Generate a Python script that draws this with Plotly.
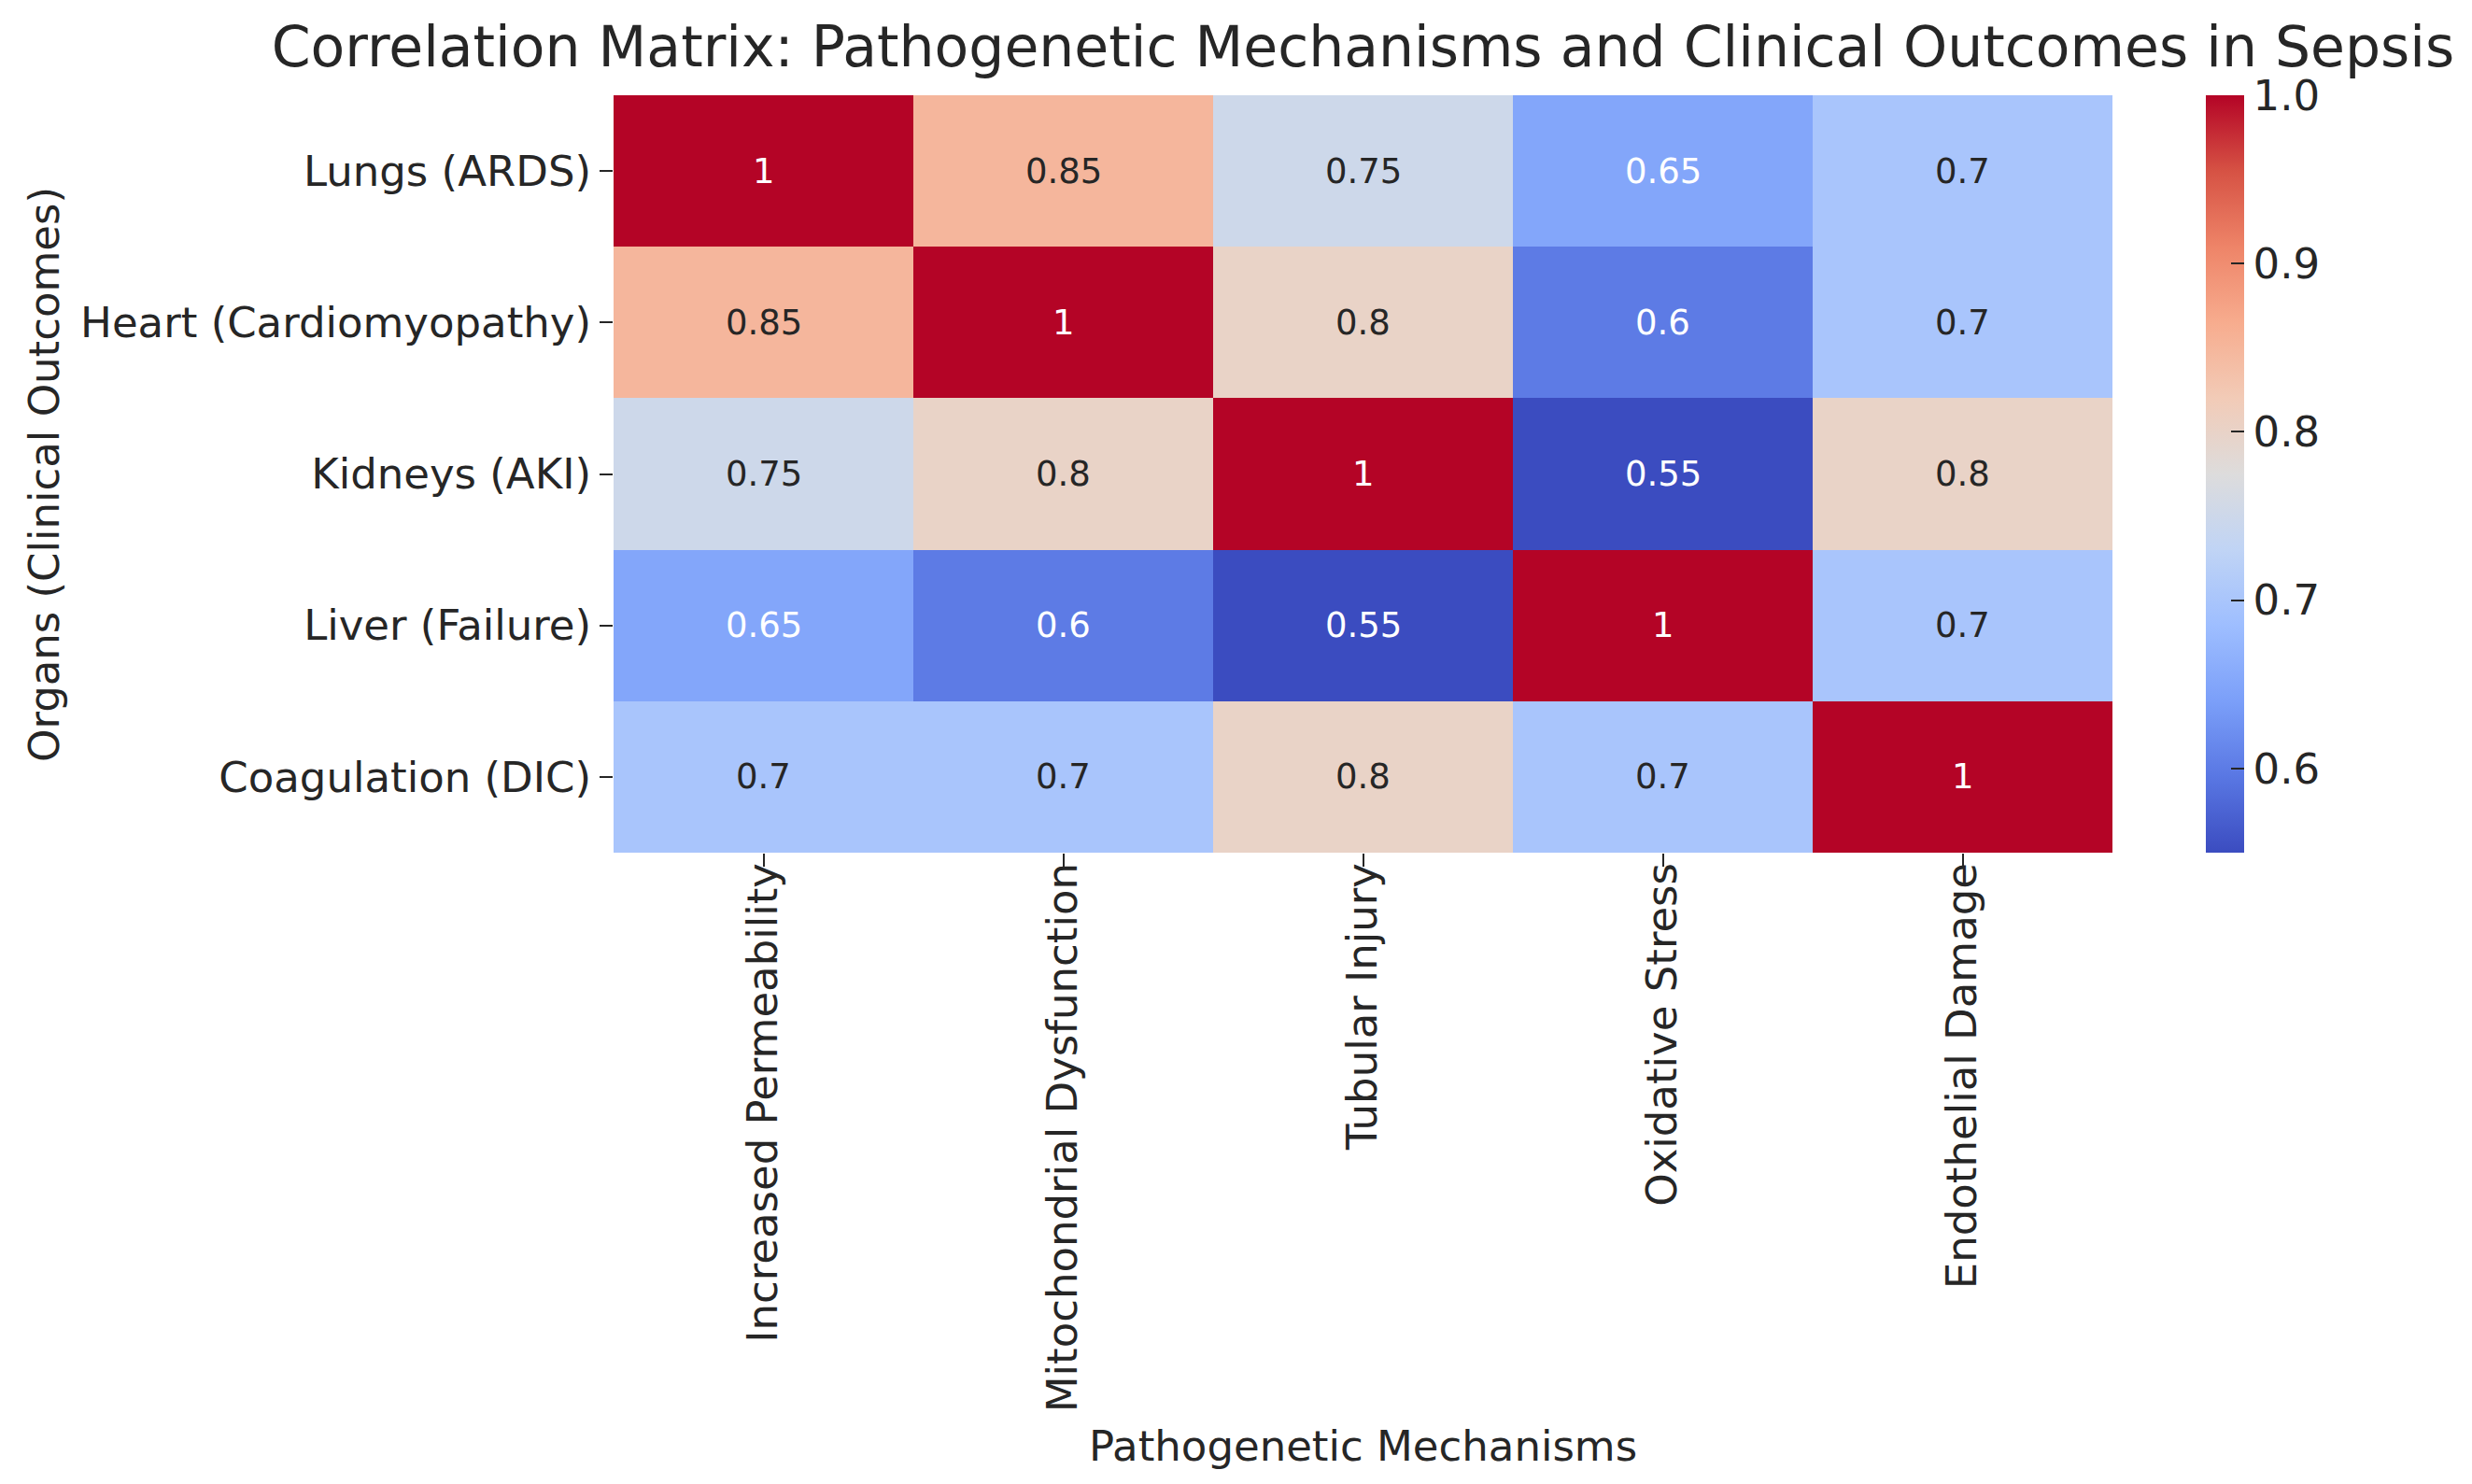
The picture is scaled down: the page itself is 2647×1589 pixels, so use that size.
import plotly.graph_objects as go

organs = ["Lungs (ARDS)", "Heart (Cardiomyopathy)", "Kidneys (AKI)", "Liver (Failure)", "Coagulation (DIC)"]
mechanisms = ["Increased Permeability", "Mitochondrial Dysfunction", "Tubular Injury", "Oxidative Stress", "Endothelial Damage"]
lungs = [1.0, 0.85, 0.75, 0.65, 0.7]
heart = [0.85, 1.0, 0.8, 0.6, 0.7]
kidneys = [0.75, 0.8, 1.0, 0.55, 0.8]
liver = [0.65, 0.6, 0.55, 1.0, 0.7]
coag = [0.7, 0.7, 0.8, 0.7, 1.0]
cbar_ticks = [0.6, 0.7, 0.8, 0.9, 1.0]

z = [lungs, heart, kidneys, liver, coag]
zmin, zmax = 0.55, 1.0

coolwarm_hex = ["#3b4cc0", "#5977e3", "#7b9ff9", "#9ebeff", "#c0d4f5", "#dddcdc",
                "#f2cbb7", "#f7ac8e", "#ee8468", "#d65244", "#b40426"]
colorscale = [[i / 10, c] for i, c in enumerate(coolwarm_hex)]


def hex2rgb(h):
    h = h.lstrip("#")
    return [int(h[i:i + 2], 16) / 255 for i in (0, 2, 4)]


def color_at(v):
    t = (v - zmin) / (zmax - zmin)
    t = min(max(t, 0), 1)
    idx = min(int(t * 10), 9)
    f = t * 10 - idx
    a, b = hex2rgb(coolwarm_hex[idx]), hex2rgb(coolwarm_hex[idx + 1])
    return [a[k] + (b[k] - a[k]) * f for k in range(3)]


def lum(rgb):
    lin = [c / 12.92 if c <= 0.03928 else ((c + 0.055) / 1.055) ** 2.4 for c in rgb]
    return 0.2126 * lin[0] + 0.7152 * lin[1] + 0.0722 * lin[2]


FONT = "DejaVu Sans"
TXT = "#262626"
X0, X1, Y0, Y1 = 649, 2254, 94, 905
W, H = 2647, 1589

fig = go.Figure(go.Heatmap(
    z=z, x=mechanisms, y=organs,
    zmin=zmin, zmax=zmax, colorscale=colorscale,
    colorbar=dict(
        x=2354 / W, xanchor="left", xref="paper", xpad=0,
        y=1 - Y1 / H, yanchor="bottom", yref="paper", ypad=0,
        len=(Y1 - Y0) / H, lenmode="fraction",
        thickness=41, thicknessmode="pixels",
        outlinewidth=0,
        tickvals=cbar_ticks, tickformat=".1f",
        ticks="inside", ticklen=14, tickwidth=2, tickcolor=TXT,
        tickfont=dict(family=FONT, size=45, color=TXT),
    ),
))

annotations = []
for i, row in enumerate(z):
    for j, v in enumerate(row):
        col = "white" if lum(color_at(v)) <= 0.408 else TXT
        annotations.append(dict(x=mechanisms[j], y=organs[i], xref="x", yref="y",
                                text=f"{v:g}", showarrow=False,
                                font=dict(family=FONT, size=37, color=col)))

annotations.append(dict(x=0.5 * (X0 + X1) / W, y=1 - 1540 / H, xref="paper", yref="paper",
                        text="Pathogenetic Mechanisms", showarrow=False,
                        xanchor="center", yanchor="middle",
                        font=dict(family=FONT, size=45, color=TXT)))
annotations.append(dict(x=40 / W, y=1 - 500 / H, xref="paper", yref="paper",
                        text="Organs (Clinical Outcomes)", showarrow=False, textangle=-90,
                        xanchor="center", yanchor="middle",
                        font=dict(family=FONT, size=45, color=TXT)))

fig.update_layout(
    width=W, height=H,
    margin=dict(l=0, r=0, t=0, b=0),
    paper_bgcolor="white", plot_bgcolor="white",
    title=dict(text="Correlation Matrix: Pathogenetic Mechanisms and Clinical Outcomes in Sepsis",
               x=0.5 * (X0 + X1) / W, xanchor="center",
               y=1 - 42 / H, yanchor="middle",
               font=dict(family=FONT, size=60, color=TXT)),
    annotations=annotations,
    xaxis=dict(domain=[X0 / W, X1 / W], tickangle=-90,
               ticks="outside", ticklen=14, tickwidth=2, tickcolor=TXT,
               ticklabelstandoff=-22,
               tickfont=dict(family=FONT, size=45, color=TXT),
               showgrid=False, zeroline=False, showline=False),
    yaxis=dict(domain=[1 - Y1 / H, 1 - Y0 / H], autorange="reversed",
               ticks="outside", ticklen=14, tickwidth=2, tickcolor=TXT,
               tickfont=dict(family=FONT, size=45, color=TXT),
               showgrid=False, zeroline=False, showline=False),
)

fig.write_html("out.html")
